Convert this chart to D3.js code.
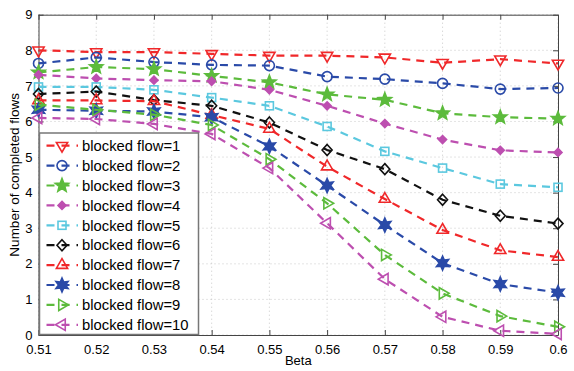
<!DOCTYPE html>
<html>
<head>
<meta charset="utf-8">
<script src="https://cdn.jsdelivr.net/npm/d3@7"></script>
<style>
body { margin: 0; background: #fff; }
svg { font-family: "Liberation Sans", Arial, sans-serif; }
</style>
</head>
<body>
<div id="chart"></div>
<script>
var betas = [0.51, 0.52, 0.53, 0.54, 0.55, 0.56, 0.57, 0.58, 0.59, 0.60];
var xTicks = [0.51, 0.52, 0.53, 0.54, 0.55, 0.56, 0.57, 0.58, 0.59, 0.6];
var xTickLabels = ["0.51", "0.52", "0.53", "0.54", "0.55", "0.56", "0.57", "0.58", "0.59", "0.6"];
var yTicks = [0, 1, 2, 3, 4, 5, 6, 7, 8, 9];

var flow1 = [8.0, 7.95, 7.95, 7.9, 7.85, 7.85, 7.8, 7.65, 7.75, 7.63];
var flow2 = [7.63, 7.8, 7.67, 7.59, 7.57, 7.26, 7.19, 7.07, 6.91, 6.94];
var flow3 = [7.38, 7.53, 7.47, 7.28, 7.1, 6.76, 6.61, 6.23, 6.12, 6.08];
var flow4 = [7.31, 7.21, 7.16, 7.13, 6.89, 6.44, 5.94, 5.49, 5.19, 5.13];
var flow5 = [6.97, 6.97, 6.89, 6.67, 6.44, 5.86, 5.16, 4.69, 4.24, 4.15];
var flow6 = [6.77, 6.84, 6.6, 6.44, 5.97, 5.2, 4.66, 3.8, 3.35, 3.13];
var flow7 = [6.59, 6.59, 6.57, 6.18, 5.79, 4.73, 3.82, 2.95, 2.38, 2.19];
var flow8 = [6.33, 6.3, 6.28, 6.12, 5.3, 4.2, 3.09, 2.02, 1.43, 1.19];
var flow9 = [6.47, 6.33, 6.19, 5.9, 4.94, 3.7, 2.25, 1.17, 0.53, 0.23];
var flow10 = [6.1, 6.07, 5.93, 5.65, 4.69, 3.14, 1.57, 0.51, 0.12, 0.03];

var names = ["blocked flow=1", "blocked flow=2", "blocked flow=3", "blocked flow=4", "blocked flow=5",
             "blocked flow=6", "blocked flow=7", "blocked flow=8", "blocked flow=9", "blocked flow=10"];
var allFlows = [flow1, flow2, flow3, flow4, flow5, flow6, flow7, flow8, flow9, flow10];
var colors = ["#f0282a", "#2a4aa8", "#5cbb3c", "#bd4fb0", "#5bc8df", "#111111", "#f0282a", "#2a4aa8", "#5cbb3c", "#bd4fb0"];
var markers = ["tdown", "circle", "star5", "diamondFill", "square", "diamond", "tup", "star6", "tright", "tleft"];

const width = 574, height = 371;
const pLeft = 38.5, pRight = 558, pTop = 14.7, pBottom = 335;

const svg = d3.select('#chart').append('svg')
    .attr('width', width).attr('height', height);

var x = d3.scaleLinear().domain([0.51, 0.6]).range([pLeft, pRight]);
var y = d3.scaleLinear().domain([0, 9]).range([pBottom, pTop]);

// grid
var grid = svg.append('g');
xTicks.forEach(function(t){
    grid.append('line').attr('x1', x(t)).attr('x2', x(t)).attr('y1', pTop).attr('y2', pBottom)
        .attr('stroke', '#bbb').attr('stroke-width', 0.8).attr('stroke-dasharray', '1,3');
});
yTicks.forEach(function(t){
    grid.append('line').attr('x1', pLeft).attr('x2', pRight).attr('y1', y(t)).attr('y2', y(t))
        .attr('stroke', '#bbb').attr('stroke-width', 0.8).attr('stroke-dasharray', '1,3');
});

// axes (ticks inward, box style)
function styleAxis(g){
    g.select('.domain').attr('stroke', '#444');
    g.selectAll('.tick line').attr('stroke', '#444');
    g.selectAll('.tick text').attr('fill', '#000').style('font-size', '13px')
        .style('font-family', '"Liberation Sans", Arial, sans-serif');
}
var xAxis = svg.append('g').attr('transform', 'translate(0,' + pBottom + ')')
    .call(d3.axisBottom(x).tickValues(xTicks).tickSizeInner(-5).tickSizeOuter(0).tickPadding(10)
        .tickFormat(function(d, i){ return xTickLabels[i]; }));
styleAxis(xAxis);
var xTop = svg.append('g').attr('transform', 'translate(0,' + pTop + ')')
    .call(d3.axisTop(x).tickValues(xTicks).tickSizeInner(-5).tickSizeOuter(0).tickFormat(''));
styleAxis(xTop);
var yAxis = svg.append('g').attr('transform', 'translate(' + pLeft + ',0)')
    .call(d3.axisLeft(y).tickValues(yTicks).tickSizeInner(-5).tickSizeOuter(0).tickPadding(6));
styleAxis(yAxis);
var yRight = svg.append('g').attr('transform', 'translate(' + pRight + ',0)')
    .call(d3.axisRight(y).tickValues(yTicks).tickSizeInner(-5).tickSizeOuter(0).tickFormat(''));
styleAxis(yRight);

svg.append('text').attr('x', (pLeft + pRight) / 2).attr('y', 365)
    .attr('text-anchor', 'middle').style('font-size', '13px').text('Beta');
svg.append('text').attr('transform', 'translate(19,' + ((pTop + pBottom) / 2) + ') rotate(-90)')
    .attr('text-anchor', 'middle').style('font-size', '13.5px').text('Number of completed flows');

// marker drawing
function starPath(n, ro, ri){
    var p = [];
    for (var i = 0; i < 2 * n; i++){
        var a = -Math.PI / 2 + i * Math.PI / n;
        var r = i % 2 == 0 ? ro : ri;
        p.push([r * Math.cos(a), r * Math.sin(a)]);
    }
    return 'M' + p.map(function(q){ return q[0].toFixed(2) + ',' + q[1].toFixed(2); }).join('L') + 'Z';
}
function triPath(dir, r){
    var a0 = {tup: -90, tdown: 90, tright: 0, tleft: 180}[dir] * Math.PI / 180;
    var p = [];
    for (var i = 0; i < 3; i++){
        var a = a0 + i * 2 * Math.PI / 3;
        p.push([r * Math.cos(a), r * Math.sin(a)]);
    }
    return 'M' + p.map(function(q){ return q[0].toFixed(2) + ',' + q[1].toFixed(2); }).join('L') + 'Z';
}
function drawMarker(g, type, cx, cy, color){
    var m;
    if (type == 'circle'){
        m = g.append('circle').attr('r', 5).attr('fill', 'none');
    } else if (type == 'square'){
        m = g.append('rect').attr('x', -4).attr('y', -4).attr('width', 8).attr('height', 8).attr('fill', 'none');
    } else if (type == 'diamond'){
        m = g.append('path').attr('d', 'M0,-5.5L5,0L0,5.5L-5,0Z').attr('fill', 'none');
    } else if (type == 'diamondFill'){
        m = g.append('path').attr('d', 'M0,-4L4,0L0,4L-4,0Z').attr('fill', color);
    } else if (type == 'star5'){
        m = g.append('path').attr('d', starPath(5, 7, 3)).attr('fill', color);
    } else if (type == 'star6'){
        m = g.append('path').attr('d', starPath(6, 7, 3.5)).attr('fill', color);
    } else {
        m = g.append('path').attr('d', triPath(type, 6.5)).attr('fill', 'none');
    }
    m.attr('transform', 'translate(' + cx + ',' + cy + ')')
        .attr('stroke', color).attr('stroke-width', 1.6);
}

var line = d3.line().x(function(d, i){ return x(betas[i]); }).y(function(d){ return y(d); });

var plot = svg.append('g');
allFlows.forEach(function(vals, k){
    var g = plot.append('g');
    g.append('path').datum(vals).attr('d', line).attr('fill', 'none')
        .attr('stroke', colors[k]).attr('stroke-width', 2.2).attr('stroke-dasharray', '8,6');
    vals.forEach(function(v, i){
        drawMarker(g, markers[k], x(betas[i]), y(v), colors[k]);
    });
});

// legend
var lg = svg.append('g');
lg.append('rect').attr('x', 39.5).attr('y', 133).attr('width', 159).attr('height', 201.5)
    .attr('fill', '#fff').attr('stroke', '#777').attr('stroke-width', 1.5);
names.forEach(function(n, k){
    var ly = 145.7 + k * 19.9;
    lg.append('line').attr('x1', 46.5).attr('x2', 78).attr('y1', ly).attr('y2', ly)
        .attr('stroke', colors[k]).attr('stroke-width', 2.2).attr('stroke-dasharray', '8,7');
    drawMarker(lg, markers[k], 62, ly, colors[k]);
    lg.append('text').attr('x', 82).attr('y', ly + 5.2).style('font-size', '14.8px').text(n);
});
</script>
</body>
</html>
